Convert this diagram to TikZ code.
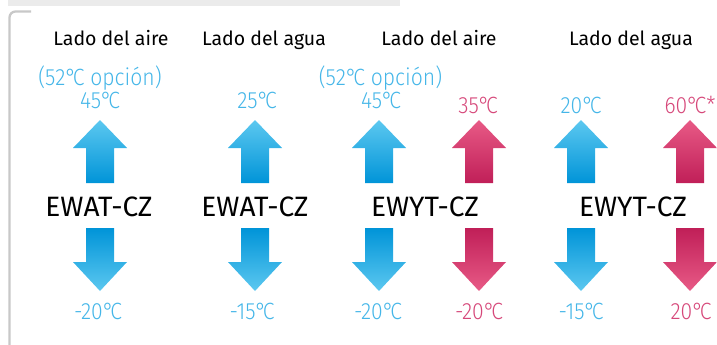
\documentclass[tikz,border=0pt]{standalone}
\usepackage{fontspec}
\usepackage{graphicx}
\setmainfont{Fira Sans}
\newfontfamily\lightf{Fira Sans}[UprightFont=* Light]
\newcommand\dg{°\kern-0.17em}
\newcommand\sqz[1]{\scalebox{0.9}[1]{#1}}
\definecolor{bandgray}{HTML}{EBEBEB}
\definecolor{framegray}{HTML}{C8C8C8}
\definecolor{blA}{HTML}{5CC8F0}
\definecolor{blB}{HTML}{00B4EA}
\definecolor{blC}{HTML}{0094D8}
\definecolor{rdA}{HTML}{E85A86}
\definecolor{rdB}{HTML}{D63C6E}
\definecolor{rdC}{HTML}{C01F58}
\definecolor{bltext}{HTML}{45B6E8}
\definecolor{rdtext}{HTML}{D6487A}
\tikzset{
  side/.style={font=\fontsize{19.5}{22}\selectfont, text=black, anchor=base, inner sep=0pt},
  model/.style={font=\fontsize{28}{30}\selectfont, text=black, anchor=base, inner sep=0pt},
  tblue/.style={font=\lightf\fontsize{23.5}{26}\selectfont, text=bltext, anchor=base, inner sep=0pt},
  tred/.style={font=\lightf\fontsize{23.5}{26}\selectfont, text=rdtext, anchor=base, inner sep=0pt},
  blueup/.style={top color=blA, middle color=blB, bottom color=blC},
  bluedown/.style={top color=blC, middle color=blB, bottom color=blA},
  redup/.style={top color=rdA, middle color=rdB, bottom color=rdC},
  reddown/.style={top color=rdC, middle color=rdB, bottom color=rdA},
  uparr/.pic={\shade[pic actions] (-14,63) -- (-14,28) -- (-27,28) -- (0,0) -- (27,28) -- (14,28) -- (14,63) -- cycle;},
  downarr/.pic={\shade[pic actions] (-14,0) -- (14,0) -- (14,34) -- (27,34) -- (0,63) -- (-27,34) -- (-14,34) -- cycle;},
}
\begin{document}
\begin{tikzpicture}[x=1pt,y=-1pt]
\useasboundingbox (0,0) rectangle (717,345);
\fill[bandgray] (8,0) rectangle (400,6);
\draw[framegray, line width=2.3pt, rounded corners=6pt] (9.5,346) -- (9.5,11.5) -- (31,11.5);

% side labels
\node[side] (s1) at (111,46) {Lado del aire};
\node[side] (s2) at (264,46) {Lado del agua};
\node[side] (s3) at (439,46) {Lado del aire};
\node[side] (s4) at (631,46) {Lado del agua};

% upper temperatures
\node[tblue] (o1) at (100,85) {\sqz{(52\dg C opción)}};
\node[tblue] (t1) at (100,108) {\sqz{45\dg C}};
\node[tblue] (t2) at (257,108) {\sqz{25\dg C}};
\node[tblue] (o3) at (380.5,85) {\sqz{(52\dg C opción)}};
\node[tblue] (t3) at (381,108) {\sqz{45\dg C}};
\node[tred]  (t4) at (478,113) {\sqz{35\dg C}};
\node[tblue] (t5) at (581,113) {\sqz{20\dg C}};
\node[tred]  (t6) at (690,113) {\sqz{60\dg C*}};

% up arrows
\pic[blueup] at (100,120) {uparr};
\pic[blueup] at (255,120) {uparr};
\pic[blueup] at (379,120) {uparr};
\pic[redup]  at (479,120) {uparr};
\pic[blueup] at (581,120) {uparr};
\pic[redup]  at (690,120) {uparr};

% models
\node[model] (m1) at (99,216) {EWAT-CZ};
\node[model] (m2) at (255,216) {EWAT-CZ};
\node[model] (m3) at (425,216) {EWYT-CZ};
\node[model] (m4) at (633,216) {EWYT-CZ};

% down arrows
\pic[bluedown] at (100,228) {downarr};
\pic[bluedown] at (255,228) {downarr};
\pic[bluedown] at (379,228) {downarr};
\pic[reddown]  at (479,228) {downarr};
\pic[bluedown] at (581,228) {downarr};
\pic[reddown]  at (690,228) {downarr};

% lower temperatures
\node[tblue] (b1) at (98,319) {\sqz{-20\dg C}};
\node[tblue] (b2) at (252,319) {\sqz{-15\dg C}};
\node[tblue] (b3) at (378,319) {\sqz{-20\dg C}};
\node[tred]  (b4) at (479,319) {\sqz{-20\dg C}};
\node[tblue] (b5) at (581,319) {\sqz{-15\dg C}};
\node[tred]  (b6) at (691,319) {\sqz{20\dg C}};
\end{tikzpicture}
\end{document}
